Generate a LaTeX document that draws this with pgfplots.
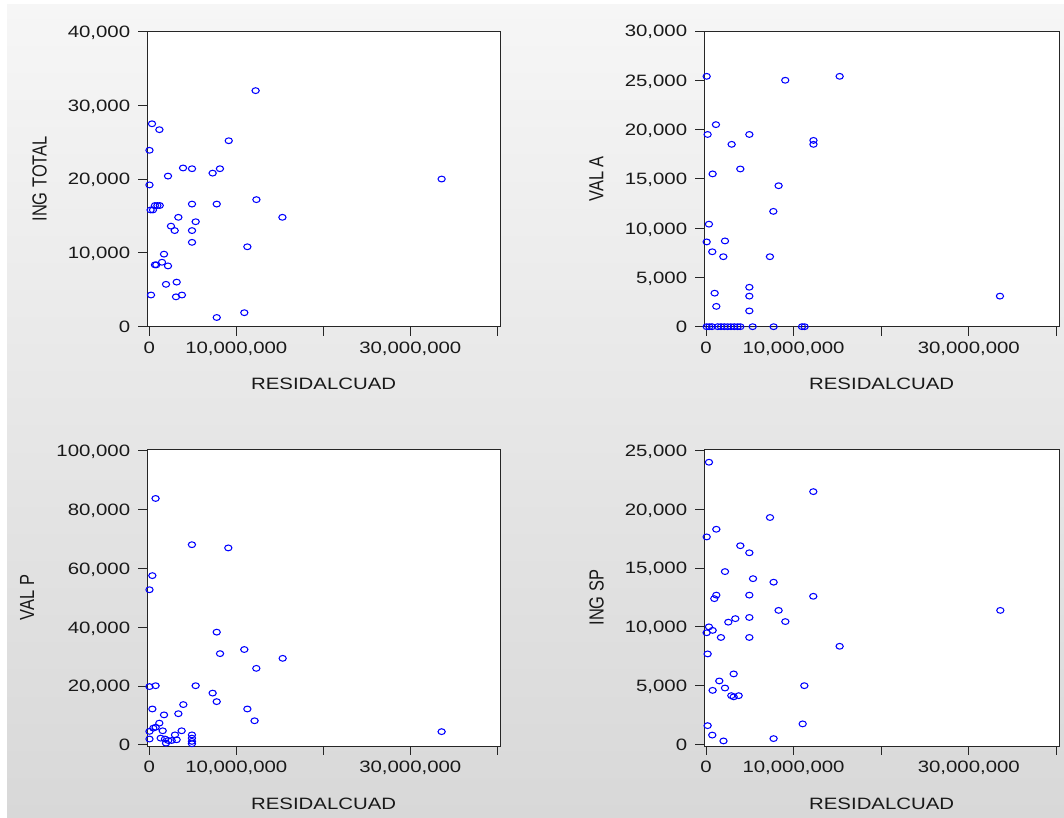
\documentclass[border=0pt]{standalone}
\usepackage{fontspec}
\setmainfont{Liberation Sans}[FakeStretch=1.24]
\newfontfamily\plainfont{Liberation Sans}
\usepackage{graphicx}
\usepackage{pgfplots}
\pgfplotsset{compat=1.18}
\definecolor{bgtop}{HTML}{F6F6F6}
\definecolor{bgmid}{HTML}{EBEBEB}
\definecolor{bgbot}{HTML}{D8D8D8}
\definecolor{ptblue}{HTML}{0000FF}
\newcommand{\lblfont}{\fontsize{16.5}{18}\selectfont}
\newcommand{\ylab}[1]{\scalebox{1}[1.24]{\plainfont\lblfont #1}}
\pgfplotsset{
 pts/.style={ptblue, only marks, mark=o, mark size=2.9bp, mark options={xscale=1.25, line width=1.05bp, draw=ptblue, fill=none, solid}},
 myax/.style={
  scale only axis, anchor=south west,
  axis background/.style={fill=white},
  xtick={0,10,20,30,40},
  xticklabels={0,{10,000,000},{},{30,000,000},{}},
  xtick pos=bottom, ytick pos=left,
  tick align=outside, major tick length=9bp,
  minor tick num=0,
  axis line style={black!85, line width=0.9bp},
  every tick/.style={black!85, line width=0.9bp},
  scaled ticks=false,
  /pgf/number format/fixed,
  /pgf/number format/1000 sep={,},
  /pgf/number format/assume math mode=true,
  tick label style={font=\lblfont, text=black!90, inner sep=0pt},
  every x tick label/.append style={anchor=base, yshift=-17.9bp},
  every y tick label/.append style={anchor=base east, xshift=-8bp, yshift=-5.9bp},
  xlabel={RESIDALCUAD},
  every axis x label/.style={at={(axis description cs:0.5,-0.194)}, anchor=center, font=\lblfont, text=black!90, inner sep=0pt},
  every axis y label/.style={rotate=90, anchor=center, text=black!90, inner sep=0pt},
 }
}
\begin{document}
\begin{tikzpicture}[x=1bp,y=1bp]
\fill[white] (0,0) rectangle (1064,818);
\shade[top color=bgtop, middle color=bgmid, bottom color=bgbot] (7,0) rectangle (1064,813);

% ---------------- ING TOTAL ----------------
\begin{axis}[myax, at={(147.3bp,491.3bp)}, width=352.7bp, height=295.7bp,
  xmin=-0.23, xmax=40.31, ymin=-50, ymax=40100,
  ytick={0,10000,20000,30000,40000},
  ylabel={\ylab{ING TOTAL}}, ylabel style={at={(axis description cs:-0.305,0.5)}}]
\addplot[pts] coordinates {
(0.31,27500) (1.16,26700) (9.13,25200) (0.02,23900) (3.88,21500) (4.91,21400)
(7.28,20800) (8.12,21400) (2.15,20400) (0.02,19200) (12.22,32000) (33.6,20000)
(0.15,15800) (0.42,15800) (0.65,16400) (0.93,16400) (1.20,16400)
(4.91,16600) (7.75,16600) (12.31,17200) (15.30,14800) (3.34,14800) (5.33,14200)
(2.49,13600) (2.92,13000) (4.91,13000) (4.91,11400) (11.27,10800) (1.69,9800)
(0.65,8350) (0.80,8350) (1.46,8700) (2.15,8200) (1.92,5700) (3.15,6000)
(0.20,4250) (3.07,4000) (3.75,4250) (7.75,1200) (10.92,1850)
};
\end{axis}

% ---------------- VAL A ----------------
\begin{axis}[myax, at={(704.3bp,491.3bp)}, width=354.7bp, height=295.7bp,
  xmin=-0.19, xmax=40.3, ymin=0, ymax=30000,
  ytick={0,5000,10000,15000,20000,25000,30000},
  ylabel={\ylab{VAL A}}, ylabel style={at={(axis description cs:-0.304,0.5)}}]
\addplot[pts] coordinates {
(0.08,25400) (9.05,25000) (15.26,25400) (1.14,20500) (0.19,19500) (4.95,19500)
(12.27,18900) (12.27,18500) (2.93,18500) (3.92,16000) (0.76,15500) (8.29,14300)
(7.69,11700) (0.34,10400) (0.08,8600) (2.17,8700) (0.72,7600) (1.98,7100)
(7.30,7100) (0.99,3400) (1.18,2060) (4.95,4000) (4.95,3100) (4.95,1600)
(33.56,3100)
(0.08,0) (0.38,0) (0.69,0) (1.34,0) (1.71,0) (2.09,0) (2.47,0) (2.85,0)
(3.23,0) (3.61,0) (3.92,0) (5.33,0) (7.72,0) (10.96,0) (11.26,0)
};
\end{axis}

% ---------------- VAL P ----------------
\begin{axis}[myax, at={(147.3bp,72bp)}, width=352.7bp, height=296.7bp,
  xmin=-0.23, xmax=40.31, ymin=-370, ymax=100400,
  ytick={0,20000,40000,60000,80000,100000},
  ylabel={\ylab{VAL P}}, ylabel style={at={(axis description cs:-0.341,0.5)}}]
\addplot[pts] coordinates {
(0.72,83700) (4.90,68000) (9.08,66900) (0.35,57500) (0.02,52700) (7.75,38300)
(10.92,32400) (15.33,29400) (8.13,31000) (12.30,26000) (0.02,19800) (0.72,20100)
(5.33,20100) (7.28,17600) (7.75,14700) (11.27,12200) (12.10,8200) (0.35,12200)
(3.91,13700) (3.34,10600) (1.69,10200) (1.15,7400) (0.73,6000) (0.46,5700)
(0.02,4600) (0.02,2000) (3.72,4800) (1.54,4800) (2.95,3400)
(1.80,2000) (2.18,1500) (2.57,1500) (3.14,1750) (1.92,600) (1.31,2300)
(4.90,3400) (4.90,2300) (4.90,1200) (4.90,400) (33.6,4500)
};
\end{axis}

% ---------------- ING SP ----------------
\begin{axis}[myax, at={(704.3bp,72bp)}, width=354.7bp, height=296.7bp,
  xmin=-0.19, xmax=40.3, ymin=-130, ymax=25100,
  ytick={0,5000,10000,15000,20000,25000},
  ylabel={\ylab{ING SP}}, ylabel style={at={(axis description cs:-0.304,0.5)}}]
\addplot[pts] coordinates {
(0.34,24000) (12.25,21500) (7.31,19300) (1.18,18300) (0.08,17650) (3.92,16900)
(4.95,16300) (2.17,14700) (5.37,14100) (7.72,13800) (1.18,12700) (0.95,12400)
(4.95,12700) (12.25,12600) (8.29,11400) (9.06,10450) (3.35,10700) (2.55,10400)
(4.95,10800) (0.34,10000) (0.76,9700) (0.08,9500) (1.71,9100) (4.95,9100)
(15.26,8350) (0.19,7700) (3.16,6000) (1.52,5400) (0.76,4600) (2.17,4800)
(2.89,4150) (3.16,4050) (3.73,4150) (11.23,5000) (11.04,1750) (0.19,1600)
(0.72,800) (2.00,300) (7.72,500) (33.6,11400)
};
\end{axis}
\end{tikzpicture}
\end{document}
